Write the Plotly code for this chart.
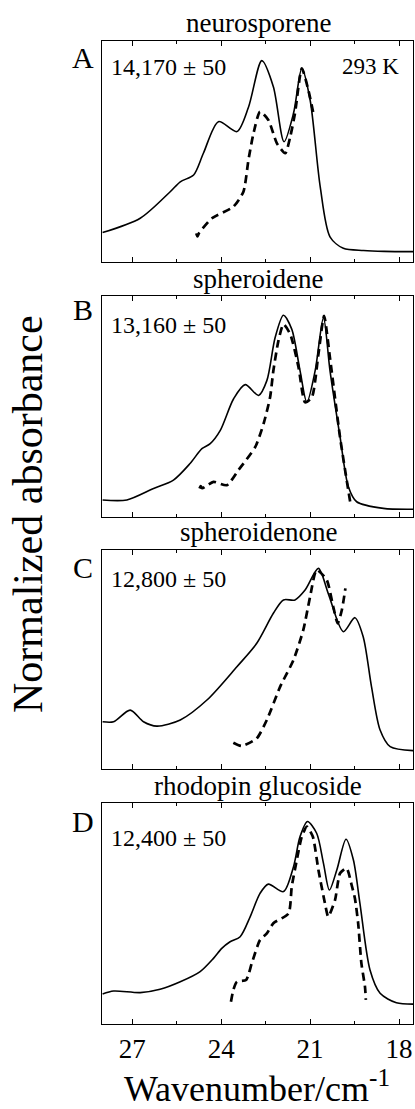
import plotly.graph_objects as go
from plotly.subplots import make_subplots

W, H = 415, 1109
ML, MR = 102, 2

# ---------------- data (wavenumber in 10^3 cm^-1, normalized absorbance) ----------------
a_solid_x = [28.0, 26.73, 25.72, 25.38, 24.93, 24.60, 24.09, 23.47, 23.08, 22.63, 22.24, 21.88, 21.56, 21.28, 21.0, 20.66, 20.33, 19.88, 19.2, 18.5, 17.52]
a_solid_y = [0.133, 0.198, 0.318, 0.363, 0.394, 0.492, 0.635, 0.59, 0.70, 0.911, 0.793, 0.544, 0.673, 0.876, 0.733, 0.341, 0.114, 0.062, 0.052, 0.048, 0.047]
a_dash_x = [24.84, 24.80, 24.75, 24.31, 23.59, 23.25, 23.08, 22.91, 22.69, 22.41, 22.12, 21.84, 21.67, 21.51, 21.28, 21.06, 20.89]
a_dash_y = [0.130, 0.116, 0.130, 0.198, 0.25, 0.318, 0.462, 0.582, 0.68, 0.643, 0.537, 0.492, 0.567, 0.673, 0.876, 0.778, 0.673]

b_solid_x = [28.0, 27.18, 26.28, 25.61, 25.05, 24.65, 24.37, 24.03, 23.58, 23.19, 22.74, 22.46, 22.18, 21.90, 21.62, 21.34, 21.11, 20.83, 20.55, 20.33, 19.99, 19.71, 19.43, 18.53, 17.52]
b_solid_y = [0.077, 0.077, 0.129, 0.167, 0.242, 0.309, 0.332, 0.392, 0.535, 0.599, 0.55, 0.617, 0.812, 0.913, 0.85, 0.662, 0.519, 0.662, 0.902, 0.662, 0.362, 0.137, 0.069, 0.039, 0.035]
b_dash_x = [24.73, 24.69, 24.64, 24.26, 23.81, 23.42, 22.85, 22.57, 22.35, 22.24, 22.07, 21.90, 21.67, 21.39, 21.17, 20.94, 20.72, 20.53, 20.33, 19.99, 19.65]
b_dash_y = [0.129, 0.14, 0.13, 0.159, 0.144, 0.212, 0.317, 0.422, 0.542, 0.662, 0.797, 0.872, 0.827, 0.677, 0.519, 0.542, 0.737, 0.91, 0.72, 0.36, 0.069]

c_solid_x = [28.0, 27.63, 27.07, 26.62, 26.17, 25.38, 24.48, 23.47, 22.80, 22.24, 21.90, 21.51, 21.17, 20.72, 20.39, 19.88, 19.49, 19.21, 18.93, 18.64, 18.30, 17.52]
c_solid_y = [0.216, 0.216, 0.269, 0.216, 0.196, 0.224, 0.315, 0.467, 0.574, 0.711, 0.772, 0.772, 0.817, 0.916, 0.802, 0.627, 0.691, 0.604, 0.376, 0.178, 0.102, 0.084]
c_dash_x = [23.59, 23.31, 22.80, 22.46, 22.01, 21.56, 21.23, 21.0, 20.78, 20.44, 20.22, 20.07, 19.93, 19.81]
c_dash_y = [0.12, 0.105, 0.14, 0.224, 0.376, 0.498, 0.635, 0.787, 0.909, 0.863, 0.741, 0.665, 0.726, 0.825]

d_solid_x = [28.0, 27.63, 26.73, 26.06, 25.38, 24.71, 24.26, 23.98, 23.70, 23.36, 23.02, 22.69, 22.41, 21.90, 21.56, 21.34, 21.09, 20.78, 20.55, 20.35, 20.10, 19.79, 19.54, 19.32, 18.98, 18.64, 18.09, 17.52]
d_solid_y = [0.136, 0.149, 0.142, 0.157, 0.191, 0.237, 0.297, 0.342, 0.372, 0.395, 0.486, 0.591, 0.633, 0.599, 0.712, 0.848, 0.916, 0.863, 0.727, 0.606, 0.697, 0.836, 0.742, 0.546, 0.244, 0.139, 0.096, 0.09]
d_dash_x = [23.67, 23.59, 23.47, 23.16, 22.97, 22.69, 22.46, 22.24, 21.73, 21.62, 21.45, 21.28, 21.11, 20.91, 20.72, 20.50, 20.39, 20.16, 19.99, 19.77, 19.60, 19.49, 19.38, 19.27, 19.15, 19.12]
d_dash_y = [0.101, 0.154, 0.191, 0.199, 0.274, 0.38, 0.41, 0.456, 0.50, 0.621, 0.742, 0.848, 0.893, 0.848, 0.697, 0.546, 0.486, 0.561, 0.682, 0.705, 0.629, 0.569, 0.456, 0.274, 0.169, 0.109]

panel_titles = ["neurosporene", "spheroidene", "spheroidenone", "rhodopin glucoside"]
panel_letters = ["A", "B", "C", "D"]
panel_values = ["14,170 \u00b1 50", "13,160 \u00b1 50", "12,800 \u00b1 50", "12,400 \u00b1 50"]
temperature_label = "293 K"
x_ticks = [27, 24, 21, 18]
x_minor_ticks = [25.5, 22.5, 19.5]
x_title = "Wavenumber/cm<sup>-1</sup>"
y_title = "Normalized absorbance"

solids = [(a_solid_x, a_solid_y), (b_solid_x, b_solid_y), (c_solid_x, c_solid_y), (d_solid_x, d_solid_y)]
dashes = [(a_dash_x, a_dash_y), (b_dash_x, b_dash_y), (c_dash_x, c_dash_y), (d_dash_x, d_dash_y)]

# ---------------- layout geometry (pixels) ----------------
frames = [(41, 262), (296, 517), (550, 769), (803, 1024)]   # (top, bottom)
title_y = [23, 279, 532, 786]
letter_y = [57, 310, 567, 821]
value_y = [67, 325, 579, 838]

def px_x(p):
    return (p - ML) / (W - ML - MR)

def px_y(p):
    return 1 - p / H

FONT = "Liberation Serif, Times New Roman, serif"

fig = make_subplots(rows=4, cols=1)

for i in range(4):
    r = i + 1
    sx, sy = solids[i]
    dx, dy = dashes[i]
    fig.add_trace(go.Scatter(x=sx, y=sy, mode="lines",
                             line=dict(color="black", width=1.6, shape="spline", smoothing=0.8),
                             showlegend=False, hoverinfo="skip"), row=r, col=1)
    fig.add_trace(go.Scatter(x=dx, y=dy, mode="lines",
                             line=dict(color="black", width=2.7, dash="8px,5px", shape="spline", smoothing=0.6),
                             showlegend=False, hoverinfo="skip"), row=r, col=1)
    top, bot = frames[i]
    xa = "xaxis" if i == 0 else f"xaxis{r}"
    ya = "yaxis" if i == 0 else f"yaxis{r}"
    fig.layout[xa].update(
        range=[28.02, 17.53], domain=[0, 1], showgrid=False, zeroline=False,
        showline=True, linecolor="black", linewidth=1.3, mirror="ticks",
        ticks="inside", ticklen=5, tickwidth=1.2, tickcolor="black",
        tickvals=x_ticks, ticktext=[str(t) for t in x_ticks],
        showticklabels=(i == 3),
        tickfont=dict(family=FONT, size=27, color="black"),
        minor=dict(tickvals=x_minor_ticks, ticks="inside", ticklen=3, tickwidth=1.1, tickcolor="black"),
    )
    fig.layout[ya].update(
        range=[0, 1], domain=[px_y(bot), px_y(top)], showgrid=False, zeroline=False,
        showline=True, linecolor="black", linewidth=1.3, mirror=True,
        ticks="", showticklabels=False,
    )

annotations = []
for i in range(4):
    annotations.append(dict(text=panel_titles[i], x=px_x(258), y=px_y(title_y[i]), xref="paper", yref="paper",
                            xanchor="center", yanchor="middle", showarrow=False,
                            font=dict(family=FONT, size=27, color="black")))
    annotations.append(dict(text=panel_letters[i], x=px_x(83), y=px_y(letter_y[i]), xref="paper", yref="paper",
                            xanchor="center", yanchor="middle", showarrow=False,
                            font=dict(family=FONT, size=30, color="black")))
    annotations.append(dict(text=panel_values[i], x=px_x(109), y=px_y(value_y[i]), xref="paper", yref="paper",
                            xanchor="left", yanchor="middle", showarrow=False,
                            font=dict(family=FONT, size=24, color="black")))
annotations.append(dict(text=temperature_label, x=px_x(401), y=px_y(67), xref="paper", yref="paper",
                        xanchor="right", yanchor="middle", showarrow=False,
                        font=dict(family=FONT, size=23, color="black")))
annotations.append(dict(text=x_title, x=px_x(257), y=px_y(1086), xref="paper", yref="paper",
                        xanchor="center", yanchor="middle", showarrow=False,
                        font=dict(family=FONT, size=36, color="black")))
annotations.append(dict(text=y_title, x=px_x(28), y=px_y(514), xref="paper", yref="paper",
                        xanchor="center", yanchor="middle", showarrow=False, textangle=-90,
                        font=dict(family=FONT, size=42, color="black")))

fig.update_layout(
    width=W, height=H, margin=dict(l=ML, r=MR, t=0, b=0),
    paper_bgcolor="white", plot_bgcolor="white",
    annotations=annotations, showlegend=False,
)

fig.write_html("out.html", config={"displayModeBar": False})
